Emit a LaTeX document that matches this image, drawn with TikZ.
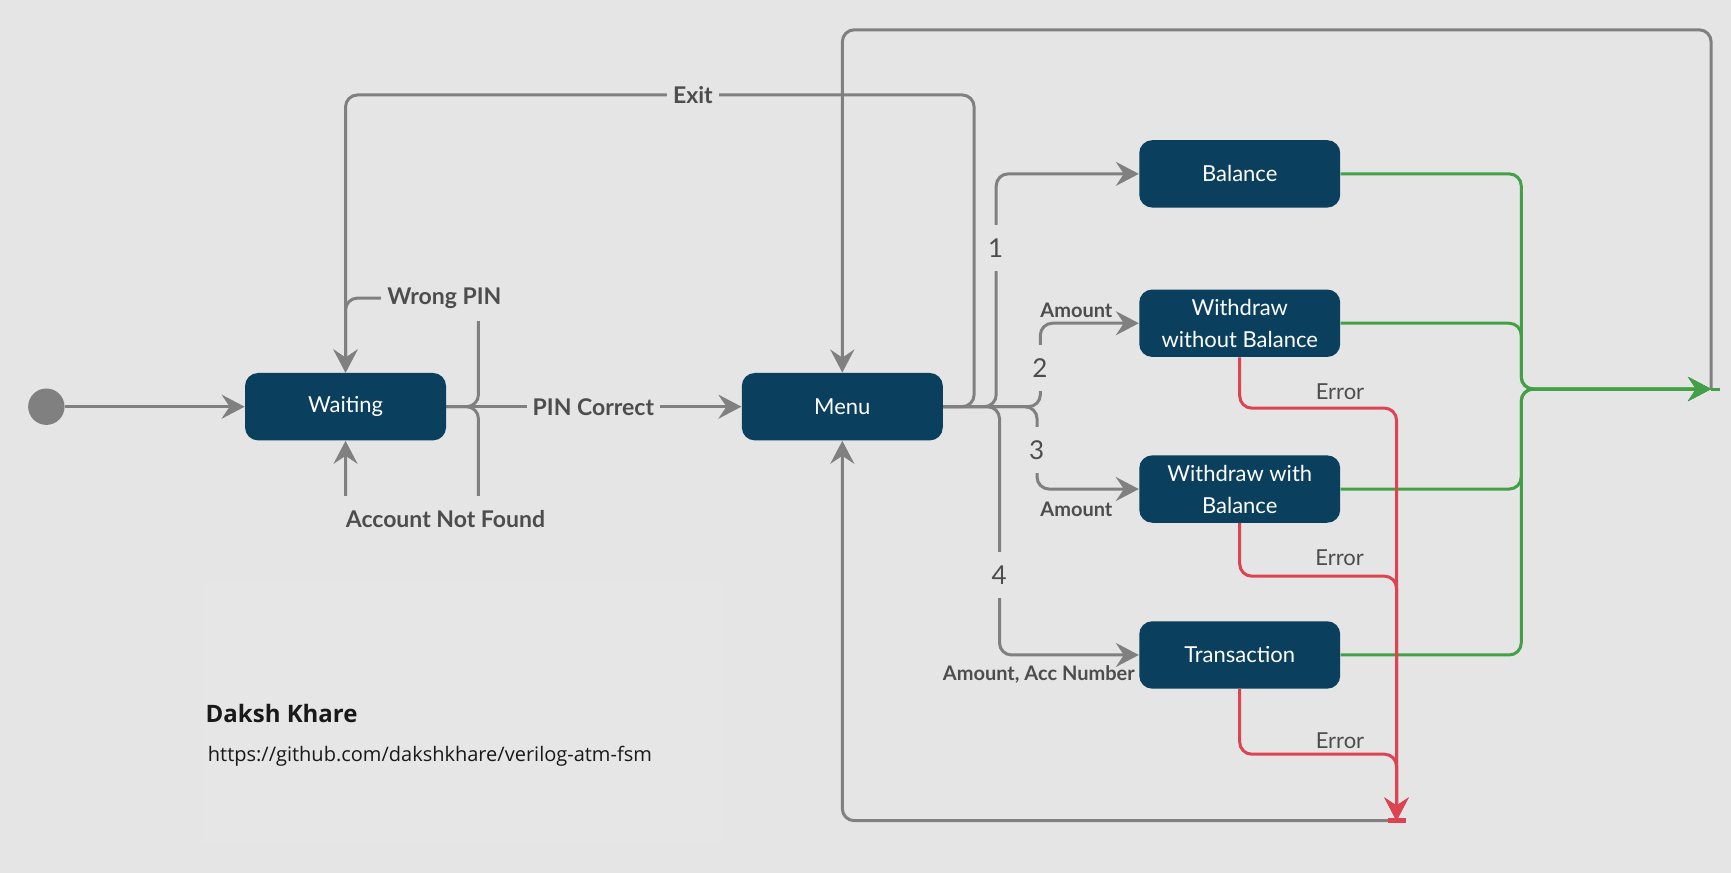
\documentclass[tikz,border=0pt]{standalone}
\usepackage{fontspec}
\setmainfont{Lato}
\newfontfamily\authorfont{Open Sans}
\usetikzlibrary{arrows.meta,backgrounds}

\definecolor{bgcol}{HTML}{E5E5E5}
\definecolor{notecol}{HTML}{E6E6E6}
\definecolor{boxblue}{HTML}{0A3F5E}
\definecolor{flowgray}{HTML}{808080}
\definecolor{okgreen}{HTML}{43A047}
\definecolor{errred}{HTML}{DC4452}
\definecolor{labelgray}{HTML}{4D4D4D}

\tikzset{
	state/.style={rectangle, rounded corners=6.5pt, fill=boxblue, text=white,
		minimum width=100.5pt, minimum height=33.7pt, align=center,
		font=\fontsize{11}{16}\selectfont},
	start/.style={circle, fill=flowgray, minimum size=18.2pt, inner sep=0pt},
	line/.style={draw=flowgray, line width=1.5pt, rounded corners=6pt},
	flow/.style={line, -{Stealth[length=11.5pt,width=12pt,inset=4pt]}},
	okflow/.style={flow, draw=okgreen},
	errflow/.style={flow, draw=errred},
	cut/.style={fill=bgcol, inner xsep=3pt, inner ysep=0pt, minimum height=23pt,
		text=labelgray, font=\fontsize{11.5}{13}\selectfont\bfseries},
	digit/.style={cut, font=\fontsize{13}{15}\selectfont},
	note/.style={text=labelgray, inner sep=0pt, font=\fontsize{10}{12}\selectfont\bfseries},
	errnote/.style={text=labelgray, inner sep=0pt, font=\fontsize{11}{13}\selectfont},
}

\begin{document}
\begin{tikzpicture}[x=0.552pt, y=-0.552pt]
	\useasboundingbox (0,0) rectangle (1568,790.8);

	% states
	\node[start] (init) at (42,368.4) {};
	\node[state] (waiting) at (313,368.4) {Waiting};
	\node[state] (menu) at (763,368.4) {Menu};
	\node[state] (bal) at (1123,157.5) {Balance};
	\node[state] (wob) at (1123,292.8) {Withdraw\\without Balance};
	\node[state] (wwb) at (1123,443) {Withdraw with\\Balance};
	\node[state] (trn) at (1123,593.3) {Transaction};

	\coordinate (gmerge) at (1378,352.4);
	\coordinate (done) at (1550,352.4);
	\coordinate (errsink) at (1265,743.4);

	% labels sitting on the lines
	\node[cut] (pin) at (537.5,368.4) {PIN Correct};
	\node[cut] (wpin) at (402.5,270) {Wrong PIN};
	\node[cut] (anf) at (403.5,470) {Account Not Found};
	\node[cut] (exit) at (627.6,86) {Exit};
	\node[digit] (one) at (902,224.6) {1};
	\node[digit] (two) at (942,333.5) {2};
	\node[digit] (three) at (939,407.6) {3};
	\node[digit] (four) at (905,520.8) {4};

	% labels beside the lines
	\node[note] (amt1) at (975,281.4) {Amount};
	\node[note] (amt2) at (975,461.3) {Amount};
	\node[note] (amt3) at (941,611) {Amount, Acc Number};
	\node[errnote] (err1) at (1213.8,354.8) {Error};
	\node[errnote] (err2) at (1213.5,505) {Error};
	\node[errnote] (err3) at (1213.8,671) {Error};

	\node[anchor=west, inner sep=0pt, font=\authorfont\bfseries\fontsize{12}{15}\selectfont, text=black!90] (author) at (186,646) {Daksh Khare};
	\node[anchor=west, inner sep=0pt, font=\authorfont\fontsize{10}{13}\selectfont, text=black!90] (repo) at (188,685) {https://github.com/dakshkhare/verilog-atm-fsm};

	\begin{scope}[on background layer]
		\fill[bgcol] (0,0) rectangle (1568,790.8);
		\fill[notecol] (184,527) rectangle (654.6,763.9);

		% login
		\draw[flow] (init) -- (waiting);
		\draw[flow] (waiting.east) -- (menu.west);
		\draw[flow] (waiting.east) -- ++(29,0) |- (wpin.center) -| (waiting.north);
		\draw[flow] (waiting.east) -- ++(29,0) |- (anf.center) -| (waiting.south);

		% menu choices
		\draw[flow] (menu.east) -- ++(28,0) |- (exit.center) -| (waiting.north);
		\draw[flow] (menu.east) -- ++(48,0) |- (bal.west);
		\draw[flow] (menu.east) -- ++(88,0) |- (wob.west);
		\draw[flow] (menu.east) -- ++(85,0) |- (wwb.west);
		\draw[flow] (menu.east) -- ++(51,0) |- (trn.west);

		% back to menu
		\draw[flow] (done) -- ++(0,-325.4) -| (menu.north);
		\draw[flow] (errsink) -| (menu.south);

		% success
		\draw[okflow] (bal.east) -| (gmerge) -- (done);
		\draw[okflow] (wob.east) -| (gmerge) -- (done);
		\draw[okflow] (wwb.east) -| (gmerge) -- (done);
		\draw[okflow] (trn.east) -| (gmerge) -- (done);
		\draw[line, draw=okgreen] (done) -- ++(8,0);

		% errors
		\draw[errflow] (wob.south) -- ++(0,46) -| (errsink);
		\draw[errflow] (wwb.south) -- ++(0,48) -| (errsink);
		\draw[errflow] (trn.south) -- ++(0,59) -| (errsink);
		\draw[line, draw=errred, line width=2.2pt] (errsink) ++(-8,0) -- ++(17,0);
	\end{scope}
\end{tikzpicture}
\end{document}
